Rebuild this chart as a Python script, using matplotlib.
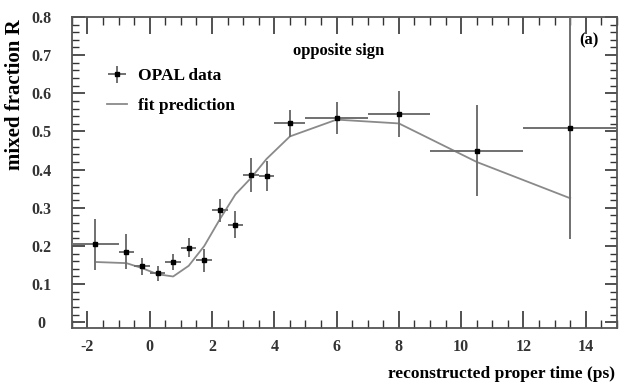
import matplotlib
matplotlib.use('Agg')
import matplotlib.pyplot as plt
from matplotlib.ticker import MultipleLocator

# OPAL mixed fraction, opposite-sign sample
t = [-1.75, -0.75, -0.25, 0.25, 0.75, 1.25, 1.75, 2.25, 2.75, 3.25, 3.75, 4.5, 6.0, 8.0, 10.5, 13.5]
t_err = [0.75, 0.25, 0.25, 0.25, 0.25, 0.25, 0.25, 0.25, 0.25, 0.25, 0.25, 0.5, 1.0, 1.0, 1.5, 1.5]
frac = [0.204, 0.185, 0.147, 0.128, 0.158, 0.195, 0.162, 0.293, 0.256, 0.386, 0.383, 0.521, 0.535, 0.545, 0.450, 0.509]
frac_err = [0.066, 0.046, 0.022, 0.02, 0.02, 0.025, 0.03, 0.03, 0.035, 0.045, 0.04, 0.035, 0.042, 0.06, 0.12, 0.29]

# fit prediction evaluated at the bin centres
fit = [0.158, 0.155, 0.142, 0.126, 0.12, 0.148, 0.20, 0.27, 0.335, 0.378, 0.428, 0.487, 0.531, 0.521, 0.42, 0.325]

xticks = [-2, 0, 2, 4, 6, 8, 10, 12, 14]
xticklabels = ['-2', '0', '2', '4', '6', '8', '10', '12', '14']
yticks = [0, 0.1, 0.2, 0.3, 0.4, 0.5, 0.6, 0.7, 0.8]
yticklabels = ['0', '0.1', '0.2', '0.3', '0.4', '0.5', '0.6', '0.7', '0.8']

plt.rcParams['font.family'] = ['Liberation Serif', 'DejaVu Serif']
plt.rcParams['font.weight'] = 'bold'

fig = plt.figure(figsize=(6.2, 3.85), dpi=100)
ax = fig.add_axes([0.116, 0.148, 0.879, 0.808])

ax.plot(t, fit, color='#8a8a8a', linewidth=1.3, label='fit prediction', zorder=2)
ax.errorbar(t, frac, xerr=t_err, yerr=frac_err, fmt='s', color='black', markersize=3.5,
            ecolor='#707070', elinewidth=1.4, capsize=0, label='OPAL data', zorder=3)

ax.set_xlim(-2.5, 15)
ax.set_ylim(-0.015, 0.8)
ax.set_xticks(xticks)
ax.set_xticklabels(xticklabels)
ax.xaxis.set_minor_locator(MultipleLocator(0.5))
ax.set_yticks(yticks)
ax.set_yticklabels(yticklabels)
ax.yaxis.set_minor_locator(MultipleLocator(0.02))
ax.tick_params(which='both', direction='in', top=True, right=True, labelsize=11.5, colors='#333333')
ax.tick_params(axis='x', which='major', length=12, width=1.2, pad=8)
ax.tick_params(axis='x', which='minor', length=6, width=1.0)
ax.tick_params(axis='y', which='major', length=9, width=1.2, pad=22)
ax.tick_params(axis='y', which='minor', length=5, width=1.0)
for lab in ax.get_yticklabels():
    lab.set_horizontalalignment('center')
for s in ax.spines.values():
    s.set_color('#555555')
    s.set_linewidth(1.3)

ax.text(0.49, 0.89, 'opposite sign', transform=ax.transAxes, ha='center', va='center', fontsize=12)
ax.text(0.948, 0.925, '(a)', transform=ax.transAxes, ha='center', va='center', fontsize=12)

fig.text(615 / 620, 1 - 374 / 385, 'reconstructed proper time (ps)', ha='right', va='center', fontsize=12.5)
fig.text(15 / 620, 1 - 19 / 385, 'mixed fraction R', rotation=90, ha='center', va='top', fontsize=15)

handles, labels = ax.get_legend_handles_labels()
ax.legend(handles[::-1], labels[::-1], loc='upper left', bbox_to_anchor=(0.035, 0.885), frameon=False,
          fontsize=12.5, handlelength=1.2, handletextpad=0.6, labelspacing=0.75)

fig.savefig('out.png', dpi=100)
